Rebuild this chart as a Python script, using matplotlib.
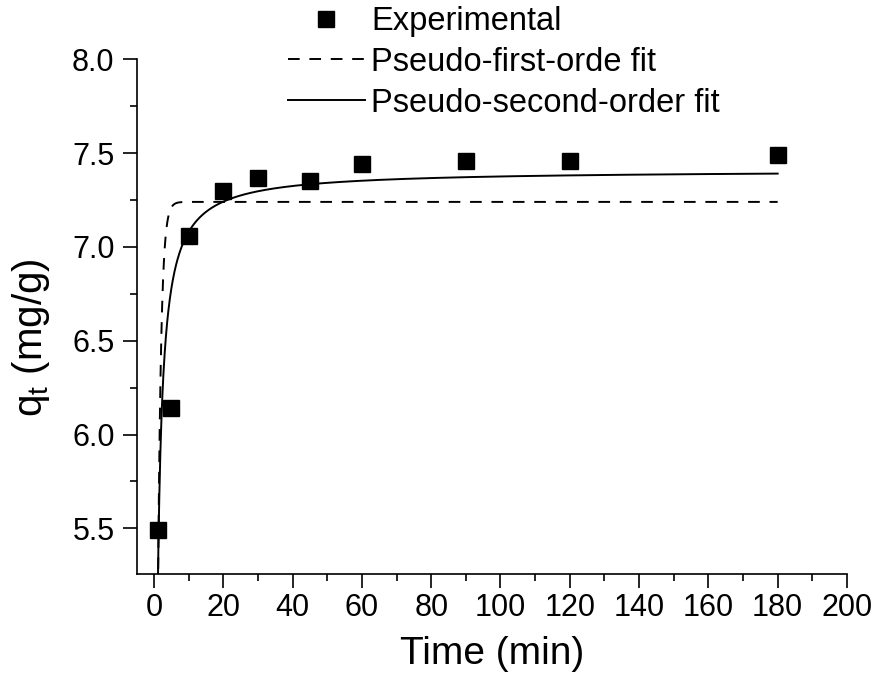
import numpy as np
import matplotlib
matplotlib.use("Agg")
import matplotlib.pyplot as plt
from matplotlib.ticker import MultipleLocator

# Experimental data
time_min = [1, 5, 10, 20, 30, 45, 60, 90, 120, 180]
qt_exp = [5.49, 6.14, 7.06, 7.30, 7.37, 7.35, 7.44, 7.46, 7.46, 7.49]

# Fit parameters
pfo_qe = 7.24
pfo_k1 = 1.1
pso_qe = 7.41
pso_k2 = 0.29

t_fit = np.linspace(0, 180, 3000)
q_pfo = pfo_qe * (1 - np.exp(-pfo_k1 * t_fit))
q_pso = pso_k2 * pso_qe**2 * t_fit / (1 + pso_k2 * pso_qe * t_fit)

plt.rcParams['font.family'] = ['Liberation Sans', 'DejaVu Sans']

fig = plt.figure(figsize=(8.85, 6.75), dpi=100)
ax = fig.add_axes([0.1545, 0.1492, 0.957 - 0.1545, 0.9121 - 0.1492])

ax.plot(time_min, qt_exp, 's', color='black', markersize=12, label='Experimental', zorder=3)
ax.plot(t_fit, q_pfo, color='black', lw=1.4, dashes=(6, 5), label='Pseudo-first-orde fit')
ax.plot(t_fit, q_pso, color='black', lw=1.4, label='Pseudo-second-order fit')

ax.set_xlim(-5, 200)
ax.set_ylim(5.255, 8.0)
ax.xaxis.set_major_locator(MultipleLocator(20))
ax.xaxis.set_minor_locator(MultipleLocator(10))
ax.yaxis.set_major_locator(MultipleLocator(0.5))
ax.yaxis.set_minor_locator(MultipleLocator(0.25))
ax.yaxis.set_major_formatter(matplotlib.ticker.FormatStrFormatter('%.1f'))

for s in ['top', 'right']:
    ax.spines[s].set_visible(False)
for s in ['left', 'bottom']:
    ax.spines[s].set_linewidth(1.2)
ax.tick_params(which='major', direction='out', length=10, width=1.2, labelsize=22)
ax.tick_params(axis='y', which='major', pad=6)
ax.tick_params(which='minor', direction='out', length=5, width=1.2)

ax.set_xlabel('Time (min)', fontsize=28, labelpad=9)
ax.set_ylabel(r'q$_\mathregular{t}$ (mg/g)', fontsize=29)
ax.yaxis.set_label_coords(-0.12, 0.46)

fig.legend(loc='upper left', bbox_to_anchor=(288 / 885, 1 - 6 / 675), frameon=False,
           fontsize=23.5, handlelength=2.35, handletextpad=0.2, labelspacing=0.3,
           borderpad=0, borderaxespad=0)

fig.savefig('out.png', dpi=100)
